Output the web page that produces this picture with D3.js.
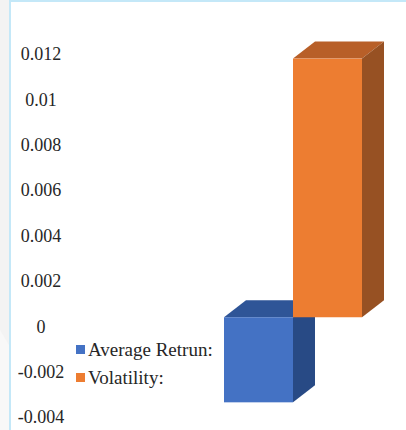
<html lang="en">
<head>
<meta charset="UTF-8">
<title>Return vs Volatility</title>
</head>
<body style="margin:0;background:#fff">
<div id="chart"></div>
<script src="https://d3js.org/d3.v7.min.js"></script>
<script>
// data
const seriesNames = ["Average Retrun:", "Volatility:"];
const seriesValues = [-0.00375, 0.0114];
const tickValues = [0.012, 0.01, 0.008, 0.006, 0.004, 0.002, 0, -0.002, -0.004];
const tickLabels = ["0.012", "0.01", "0.008", "0.006", "0.004", "0.002", "0", "-0.002", "-0.004"];

const frontColors = ["#4472c4", "#ed7d31"];
const topColors = ["#2f5597", "#b85f28"];
const sideColors = ["#284a85", "#975123"];

const FONT = "Liberation Serif, Times New Roman, serif";
const width = 406, height = 430;
const depth = {dx: 22, dy: -17}; // 3d offset
const frontShift = 9;             // front plane sits a little above the label line

const svg = d3.select("#chart")
  .append("svg")
  .attr("width", width)
  .attr("height", height);

// frame
svg.append("rect").attr("x", 0).attr("y", 0).attr("width", 9).attr("height", height).attr("fill", "#f3f3f3");
svg.append("path")
  .attr("d", "M0,330 L9,345 L9,430 L0,430 Z")
  .attr("fill", "#f8f8f8");
svg.append("path")
  .attr("d", "M10,430 L10,1 L406,1")
  .attr("fill", "none")
  .attr("stroke", "#c4e8f8")
  .attr("stroke-width", 2);

const yScale = d3.scaleLinear()
  .domain([-0.004, 0.012])
  .range([417, 54]);

const xScale = d3.scaleBand()
  .domain(seriesNames)
  .range([224, 362])
  .padding(0);

// axis labels, centred
const yAxis = svg.append("g")
  .attr("transform", "translate(41,0)")
  .call(d3.axisLeft(yScale)
    .tickValues(tickValues)
    .tickSize(0)
    .tickPadding(0)
    .tickFormat((d, i) => tickLabels[i]));
yAxis.attr("font-family", FONT).attr("font-size", 18);
yAxis.select(".domain").remove();
yAxis.selectAll("text")
  .attr("fill", "#262626")
  .attr("text-anchor", "middle")
  .attr("x", 0);

// 3d bars
const bars = svg.append("g");
seriesNames.forEach(function(name, i) {
  const v = seriesValues[i];
  const x0 = xScale(name);
  const x1 = x0 + xScale.bandwidth();
  const yTop = Math.min(yScale(v), yScale(0)) - frontShift;
  const yBot = Math.max(yScale(v), yScale(0)) - frontShift;
  const g = bars.append("g");
  // top face
  g.append("path")
    .attr("d", `M${x0},${yTop} L${x0 + depth.dx},${yTop + depth.dy} L${x1 + depth.dx},${yTop + depth.dy} L${x1},${yTop} Z`)
    .attr("fill", topColors[i]);
  // side face
  g.append("path")
    .attr("d", `M${x1},${yTop} L${x1 + depth.dx},${yTop + depth.dy} L${x1 + depth.dx},${yBot + depth.dy} L${x1},${yBot} Z`)
    .attr("fill", sideColors[i]);
  // front face
  g.append("rect")
    .attr("x", x0)
    .attr("y", yTop)
    .attr("width", x1 - x0)
    .attr("height", yBot - yTop)
    .attr("fill", frontColors[i]);
});

// legend
const legend = svg.append("g")
  .attr("font-family", FONT)
  .attr("font-size", 19)
  .attr("fill", "#262626");
seriesNames.forEach(function(name, i) {
  legend.append("rect")
    .attr("x", 76)
    .attr("y", 345 + i * 28)
    .attr("width", 9)
    .attr("height", 9)
    .attr("fill", frontColors[i]);
  legend.append("text")
    .attr("x", 88)
    .attr("y", 356 + i * 28)
    .text(name);
});
</script>
</body>
</html>
